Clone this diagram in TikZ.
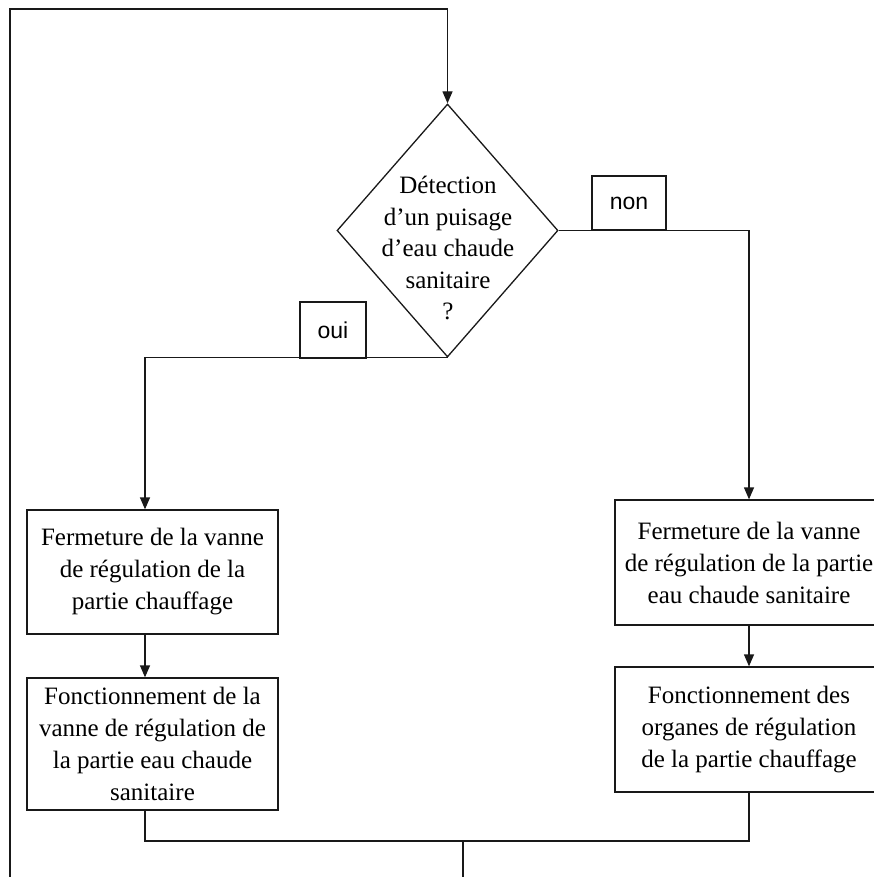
\documentclass[tikz,border=0pt]{standalone}
\usepackage{fontspec}
\setmainfont{Liberation Serif}
\newfontfamily\answerfont{Liberation Sans}
\usepackage{tikz}
\usetikzlibrary{shapes.geometric,arrows.meta}

\begin{document}
\begin{tikzpicture}[x=1pt,y=-1pt,line width=1.3pt,draw=black!90,
			box/.style={draw,rectangle,align=center,inner sep=0pt,font=\fontsize{25}{32}\selectfont},
			answer/.style={draw,rectangle,inner sep=0pt,font=\answerfont\fontsize{23}{28}\selectfont},
			decision/.style={draw,diamond,inner sep=0pt,minimum width=221pt,minimum height=253pt},
			flow/.style={-{Triangle[length=12pt,width=10pt]}}]
			\useasboundingbox (0,0) rectangle (873,877);
			\node[decision] (test) at (447.5,230.5) {};
			\node[align=center,inner sep=0pt,font=\fontsize{25}{31.5}\selectfont] (question) at (448,248)
				{Détection\\d’un puisage\\d’eau chaude\\sanitaire\\?};
			\node[box,minimum width=251pt,minimum height=124pt] (fermchauf) at (152.5,572)
				{Fermeture de la vanne\\de régulation de la\\partie chauffage};
			\node[box,minimum width=251pt,minimum height=132pt] (fonctecs) at (152.5,744)
				{Fonctionnement de la\\vanne de régulation de\\la partie eau chaude\\sanitaire};
			\node[box,minimum width=268pt,minimum height=125pt] (fermecs) at (749,562.5)
				{Fermeture de la vanne\\de régulation de la partie\\eau chaude sanitaire};
			\node[box,minimum width=268pt,minimum height=125pt] (fonctchauf) at (749,729.5)
				{Fonctionnement des\\organes de régulation\\de la partie chauffage};
			\coordinate (lcol) at (145,0);
			\coordinate (join) at (463,841);
			\coordinate (exit) at (463,877);
			\coordinate (back) at (10,877);
			\coordinate (top) at (10,9);
			\draw[flow] (test.south) -| (fermchauf.north -| lcol);
			\draw[flow] (test.east) -| (fermecs.north);
			\node[answer,minimum width=66pt,minimum height=56pt] (oui) at (333,330) {oui};
			\node[answer,minimum width=74pt,minimum height=54pt] (non) at (629,203) {non};
			\draw[flow] (fermchauf.south -| lcol) -- (fonctecs.north -| lcol);
			\draw[flow] (fermecs.south) -- (fonctchauf.north);
			\draw (fonctecs.south -| lcol) |- (join) -| (fonctchauf.south);
			\draw (join) -- (exit);
			\draw[flow] (back) -- (top) -| (test.north);
		\end{tikzpicture}
\end{document}
